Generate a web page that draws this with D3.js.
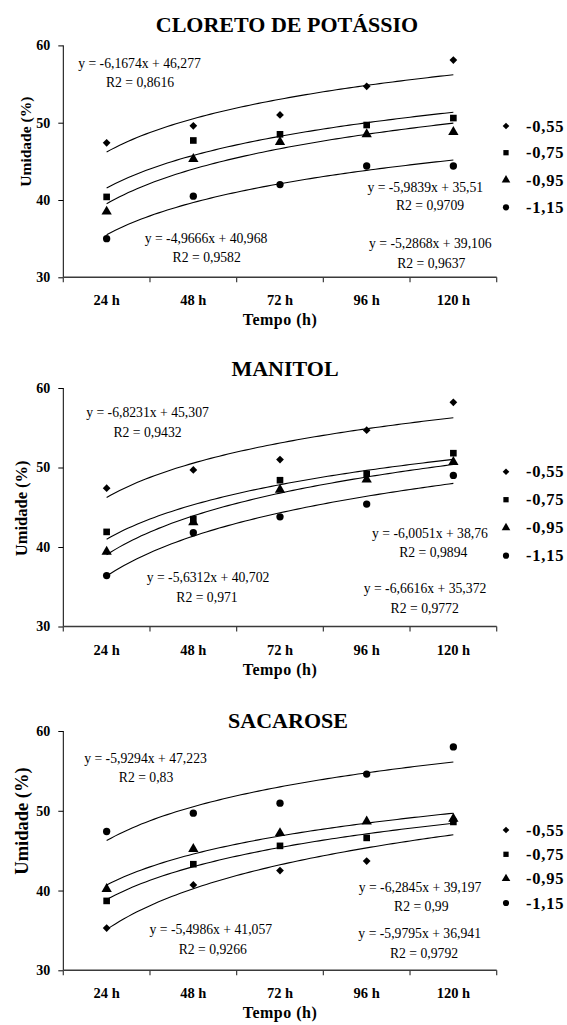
<!DOCTYPE html>
<html>
<head>
<meta charset="utf-8">
<script src="https://cdn.jsdelivr.net/npm/d3@7"></script>
<style>
  html, body { margin: 0; padding: 0; background: #fff; }
  svg { display: block; }
</style>
</head>
<body>
<svg id="chart" width="567" height="1025"></svg>
<script>
// ---------- DATA ----------
const categories = ["24 h", "48 h", "72 h", "96 h", "120 h"];
const seriesNames = ["-0,55", "-0,75", "-0,95", "-1,15"];
const panelTitles = ["CLORETO DE POTÁSSIO", "MANITOL", "SACAROSE"];
const yTicks = [30, 40, 50, 60];
const xTitle = "Tempo (h)";
const yTitle = "Umidade (%)";

// Cloreto de potássio
const kcl_055 = [47.4, 49.6, 51.0, 54.7, 58.1];
const kcl_075 = [40.4, 47.7, 48.5, 49.7, 50.6];
const kcl_095 = [38.5, 45.3, 47.5, 48.5, 48.8];
const kcl_115 = [35.0, 40.5, 42.0, 44.4, 44.4];
// Manitol
const man_055 = [47.4, 49.7, 51.0, 54.7, 58.2];
const man_075 = [41.9, 43.5, 48.4, 49.2, 51.8];
const man_095 = [39.4, 43.1, 47.2, 48.5, 50.7];
const man_115 = [36.4, 41.8, 43.8, 45.4, 49.0];
// Sacarose
const sac_055 = [35.3, 40.7, 42.5, 43.7, 48.7];
const sac_075 = [38.7, 43.3, 45.6, 46.6, 48.6];
const sac_095 = [40.2, 45.2, 47.2, 48.65, 49.0];
const sac_115 = [47.4, 49.7, 50.95, 54.6, 58.0];

// Equation annotations as printed on the figure
const kclEquations = [
  ["y = -6,1674x + 46,277", "R2 = 0,8616"],
  ["y = -4,9666x + 40,968", "R2 = 0,9582"],
  ["y = -5,9839x + 35,51", "R2 = 0,9709"],
  ["y = -5,2868x + 39,106", "R2 = 0,9637"]
];
const manEquations = [
  ["y = -6,8231x + 45,307", "R2 = 0,9432"],
  ["y = -5,6312x + 40,702", "R2 = 0,971"],
  ["y = -6,0051x + 38,76", "R2 = 0,9894"],
  ["y = -6,6616x + 35,372", "R2 = 0,9772"]
];
const sacEquations = [
  ["y = -5,9294x + 47,223", "R2 = 0,83"],
  ["y = -5,4986x + 41,057", "R2 = 0,9266"],
  ["y = -6,2845x + 39,197", "R2 = 0,99"],
  ["y = -5,9795x + 36,941", "R2 = 0,9792"]
];

// ---------- LAYOUT ----------
const FONT = "'Liberation Serif', Tinos, 'Times New Roman', Times, serif";
const X0 = 63.3, X1 = 496.7;
const layouts = [
  { top: 45.4, bottom: 277.3, titleY: 31.7, titleX: 287, yLab: { x: 31, y: 141.7, size: 15.5 },
    legendY: [126, 152.7, 180, 207.3],
    eqPos: [[139.5, 68.3, 140, 86.7], [206, 242.7, 206.7, 261.7], [425.3, 191.7, 430, 210], [430.3, 248.3, 431.3, 268.3]] },
  { top: 388, bottom: 626.5, titleY: 376, titleX: 285, yLab: { x: 27, y: 508.3, size: 16.5 },
    legendY: [471.7, 499.7, 527.7, 555.7],
    eqPos: [[147.5, 417.3, 147.5, 436.7], [208, 582.3, 207, 601.7], [430, 538.3, 433.3, 557.3], [425, 593.3, 424.7, 613.3]] },
  { top: 731, bottom: 970.3, titleY: 727.5, titleX: 288, yLab: { x: 28, y: 821, size: 18.5 },
    legendY: [830, 854.3, 878.6, 903],
    eqPos: [[145.5, 763.3, 146, 782.3], [210.8, 934.3, 212.8, 954.3], [420, 891.7, 421.3, 911], [419.7, 938.3, 424, 958.3]] }
];

const panels = [
  { title: panelTitles[0], series: [kcl_055, kcl_075, kcl_095, kcl_115], eq: kclEquations },
  { title: panelTitles[1], series: [man_055, man_075, man_095, man_115], eq: manEquations },
  { title: panelTitles[2], series: [sac_055, sac_075, sac_095, sac_115], eq: sacEquations }
];

// diamond = square rotated 45 degrees
const symbols = [d3.symbolSquare, d3.symbolSquare, d3.symbolTriangle, d3.symbolCircle];
const rotations = [45, 0, 0, 0];
const markerSize = [30, 44, 46, 42];
const legendSize = [22, 28, 32, 30];

// logarithmic least-squares trendline y = a*ln(t) + b, t = 1..n
function logFit(vals) {
  const xs = vals.map((v, i) => Math.log(i + 1));
  const mx = d3.mean(xs), my = d3.mean(vals);
  let sxy = 0, sxx = 0;
  xs.forEach((x, i) => { sxy += (x - mx) * (vals[i] - my); sxx += (x - mx) * (x - mx); });
  const a = sxy / sxx;
  return { a, b: my - a * mx };
}

const svg = d3.select("#chart");
svg.append("rect").attr("width", 567).attr("height", 1025).attr("fill", "#fff");

function txt(sel, size, bold) {
  return sel.attr("font-family", FONT).style("font-family", FONT)
    .attr("font-size", size).style("font-size", size + "px")
    .attr("font-weight", bold ? "bold" : "normal").style("font-weight", bold ? "bold" : "normal")
    .attr("fill", "#000");
}

panels.forEach((p, pi) => {
  const L = layouts[pi];
  const g = svg.append("g");
  const x = d3.scaleBand().domain(categories).range([X0, X1]).paddingInner(0).paddingOuter(0);
  const y = d3.scaleLinear().domain([30, 60]).range([L.bottom, L.top]);
  const xc = c => x(c) + x.bandwidth() / 2;
  const xt = d3.scaleLinear().domain([1, categories.length]).range([xc(categories[0]), xc(categories[categories.length - 1])]);

  // title
  txt(g.append("text").attr("x", L.titleX).attr("y", L.titleY).attr("text-anchor", "middle"), 22, true).text(p.title);

  // y axis
  const ya = g.append("g").attr("transform", `translate(${X0},0)`)
    .call(d3.axisLeft(y).tickValues(yTicks).tickSize(5).tickPadding(8).tickFormat(d3.format("d")));
  ya.attr("font-family", FONT);
  ya.select(".domain").attr("stroke", "#000").attr("stroke-width", 1).attr("d", `M0,${L.top}V${L.bottom}`);
  ya.selectAll(".tick line").attr("stroke", "#000");
  txt(ya.selectAll(".tick text"), 14, true);

  // x axis
  const xa = g.append("g").attr("transform", `translate(0,${L.bottom})`)
    .call(d3.axisBottom(x).tickSize(0).tickPadding(0));
  xa.attr("font-family", FONT);
  xa.select(".domain").attr("stroke", "#3a3a3a").attr("stroke-width", 1.4).attr("d", `M${X0},0H${X1}`);
  txt(xa.selectAll(".tick text").attr("dy", null).attr("y", 28), 14.5, true);
  const bounds = categories.map(c => x(c)).concat([x(categories[categories.length - 1]) + x.bandwidth()]);
  xa.selectAll("line.bnd").data(bounds).enter().append("line").attr("class", "bnd")
    .attr("x1", d => d).attr("x2", d => d).attr("y1", 0).attr("y2", 5)
    .attr("stroke", "#3a3a3a").attr("stroke-width", 1.2);

  // axis titles
  txt(g.append("text").attr("x", 280).attr("y", L.bottom + 48).attr("text-anchor", "middle"), 16, true)
    .style("letter-spacing", "0.5px").text(xTitle);
  txt(g.append("text").attr("transform", `translate(${L.yLab.x},${L.yLab.y}) rotate(-90)`)
    .attr("text-anchor", "middle"), L.yLab.size, true).text(yTitle);

  // trend lines
  const line = d3.line().x(d => xt(d[0])).y(d => y(d[1]));
  p.series.forEach(vals => {
    const f = logFit(vals);
    const pts = d3.range(1, categories.length + 0.0001, 0.05).map(t => [t, f.a * Math.log(t) + f.b]);
    g.append("path").attr("d", line(pts)).attr("fill", "none").attr("stroke", "#000").attr("stroke-width", 1.1);
  });

  // markers
  p.series.forEach((vals, si) => {
    g.selectAll(null).data(vals).enter().append("path")
      .attr("transform", (d, i) => `translate(${xc(categories[i])},${y(d)}) rotate(${rotations[si]})`)
      .attr("d", d3.symbol().type(symbols[si]).size(markerSize[si]))
      .attr("fill", "#000");
  });

  // equation labels
  p.eq.forEach((lines, k) => {
    const pos = L.eqPos[k];
    txt(g.append("text").attr("x", pos[0]).attr("y", pos[1]).attr("text-anchor", "middle"), 13.7, false).text(lines[0]);
    txt(g.append("text").attr("x", pos[2]).attr("y", pos[3]).attr("text-anchor", "middle"), 13.7, false).text(lines[1]);
  });

  // legend (opaque box over plot)
  const lg = g.append("g");
  lg.append("rect").attr("x", 488).attr("y", L.legendY[0] - 14).attr("width", 79)
    .attr("height", L.legendY[3] - L.legendY[0] + 28).attr("fill", "#fff");
  seriesNames.forEach((name, si) => {
    lg.append("path").attr("transform", `translate(506,${L.legendY[si]}) rotate(${rotations[si]})`)
      .attr("d", d3.symbol().type(symbols[si]).size(legendSize[si])).attr("fill", "#000");
    txt(lg.append("text").attr("x", 526).attr("y", L.legendY[si] + 5.5), 16.5, true)
      .style("letter-spacing", "0.8px").text(name);
  });
});
</script>
</body>
</html>
